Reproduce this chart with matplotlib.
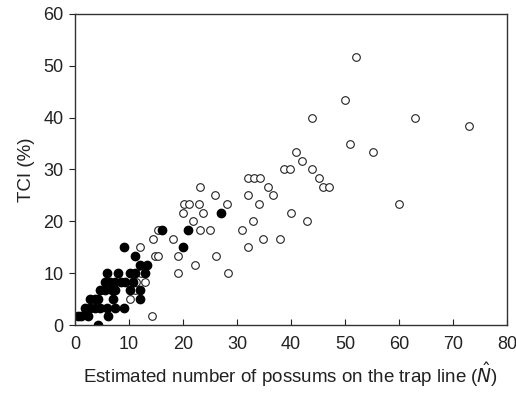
import numpy as np
import matplotlib.pyplot as plt

plt.rcParams['font.family'] = ['Liberation Sans', 'DejaVu Sans']

# Filled points (dark)
x_filled = [0.6, 1.2, 2.5, 6.2,
            1.9, 2.8, 3.7, 4.6, 5.9, 7.4, 9.1,
            2.8, 3.7, 4.3, 7.1, 12.0,
            4.6, 5.6, 6.8, 7.4, 10.2, 12.0,
            5.6, 6.5, 7.4, 8.6, 9.3, 10.8,
            5.9, 8.0, 10.2, 11.1, 13.0,
            12.0, 13.3,
            11.1, 9.1, 20.1,
            16.2, 21.0, 27.0, 4.2]
y_filled = [1.67, 1.67, 1.67, 1.67,
            3.33, 3.33, 3.33, 3.33, 3.33, 3.33, 3.33,
            5.0, 5.0, 5.0, 5.0, 5.0,
            6.67, 6.67, 6.67, 6.67, 6.67, 6.67,
            8.33, 8.33, 8.33, 8.33, 8.33, 8.33,
            10.0, 10.0, 10.0, 10.0, 10.0,
            11.67, 11.67,
            13.33, 15.0, 15.0,
            18.33, 18.33, 21.67, 0.0]

# Open points
x_open = [14.2, 10.2, 11.1, 11.4, 13.0, 12.3,
          12.0, 14.8, 14.4, 15.4, 15.4, 18.1, 19.1, 22.2, 26.1, 19.0, 28.3,
          21.9, 20.1, 23.8, 20.2, 21.2, 23.0, 28.2, 23.1, 25.9, 23.1, 25.0, 30.9,
          32.1, 33.1, 34.3, 35.8, 36.7, 32.1, 34.1, 33.0, 34.9, 38.0, 32.1,
          38.7, 39.9, 41.0, 42.0, 43.9, 45.1, 46.0, 47.1, 40.0, 43.0,
          60.0, 51.0, 55.1, 43.9, 63.0, 73.0, 50.0, 52.0]
y_open = [1.67, 5.0, 6.67, 8.33, 8.33, 10.0,
          15.0, 13.33, 16.67, 18.33, 13.33, 16.67, 13.33, 11.67, 13.33, 10.0, 10.0,
          20.0, 21.67, 21.67, 23.33, 23.33, 23.33, 23.33, 26.67, 25.0, 18.33, 18.33, 18.33,
          28.33, 28.33, 28.33, 26.67, 25.0, 25.0, 23.33, 20.0, 16.67, 16.67, 15.0,
          30.0, 30.0, 33.33, 31.67, 30.0, 28.33, 26.67, 26.67, 21.67, 20.0,
          23.33, 35.0, 33.33, 40.0, 40.0, 38.33, 43.33, 51.67]

fig = plt.figure(figsize=(5.16, 3.95), dpi=100)
ax = fig.add_axes([0.145, 0.177, 0.838, 0.788])

ax.plot(x_open, y_open, 'o', mfc='white', mec='#222222', mew=0.8, ms=5.5, ls='none')
ax.plot(x_filled, y_filled, 'o', mfc='black', mec='black', ms=6, ls='none')

ax.set_xlim(0, 80)
ax.set_ylim(0, 60)
ax.set_xticks(np.arange(0, 81, 10))
ax.set_yticks(np.arange(0, 61, 10))
ax.tick_params(axis='x', direction='in', length=4, labelsize=13, pad=8, colors='#222222')
ax.tick_params(axis='y', direction='out', length=4, labelsize=13, pad=4, colors='#222222')
for s in ax.spines.values():
    s.set_color('#333333')
    s.set_linewidth(1.0)

ax.set_xlabel(r'Estimated number of possums on the trap line ($\hat{N}$)', fontsize=13.5, color='#222222', labelpad=5)
ax.set_ylabel('TCI (%)', fontsize=13.5, color='#222222', labelpad=6)

fig.savefig('out.png', dpi=100)
